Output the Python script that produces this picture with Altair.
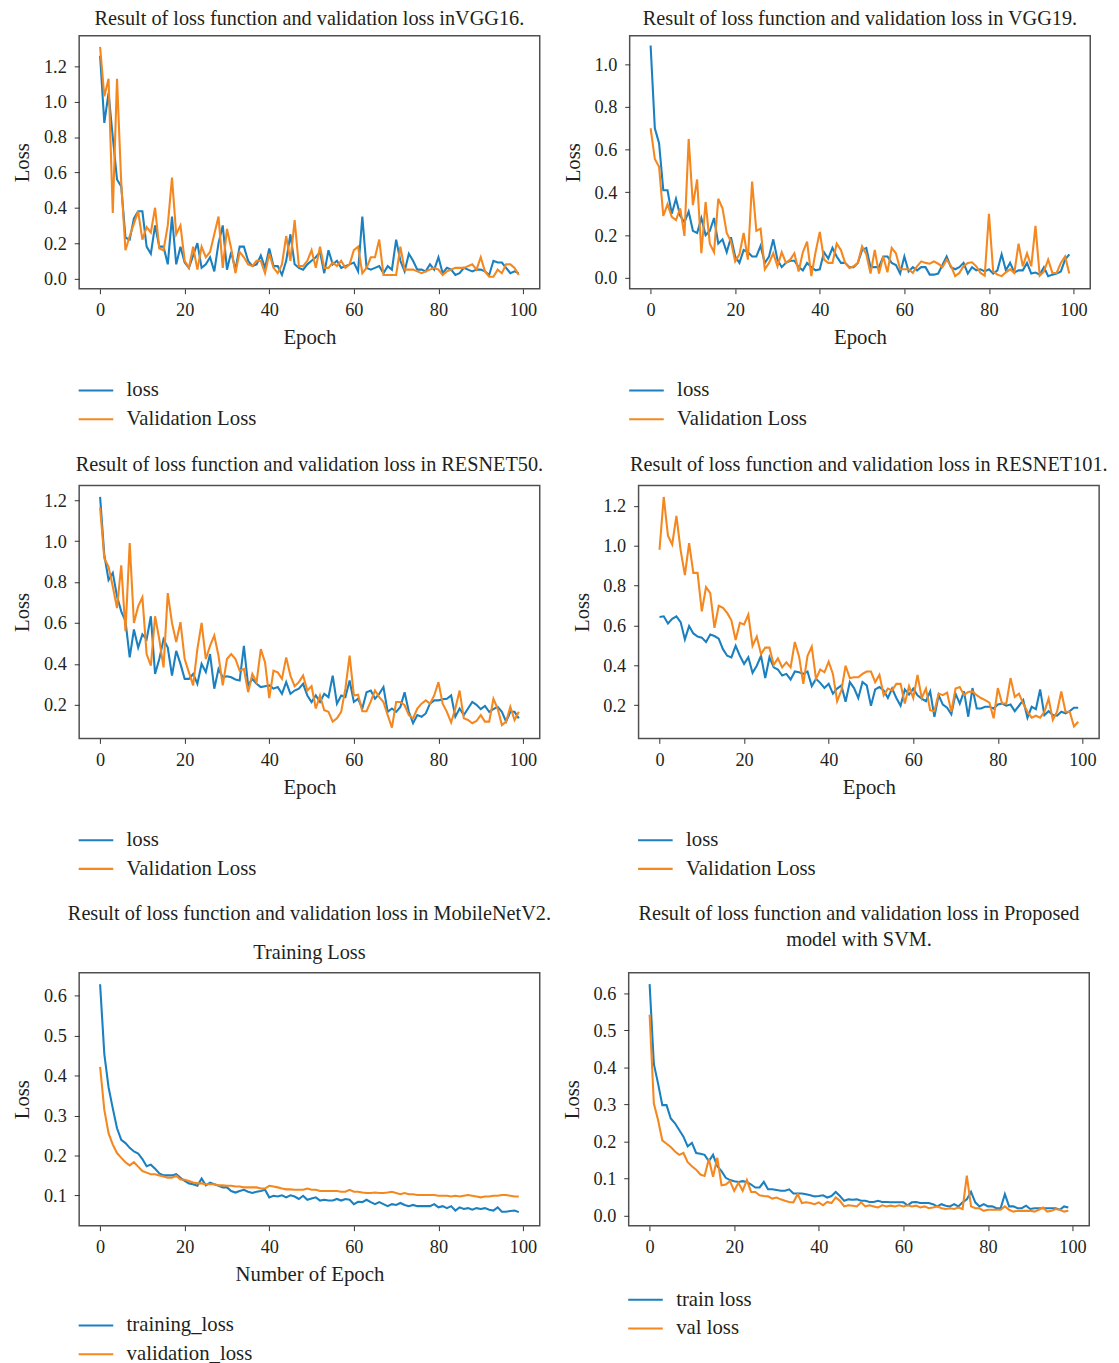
import altair as alt
import pandas as pd

FONT = "Liberation Serif"
TXT = "#231f20"
BLUE = "#1a80c0"
ORANGE = "#f5871f"

epochs = list(range(100))
x_ticks = [0, 20, 40, 60, 80, 100]

vgg16_loss = [1.26, 0.88, 1.05, 0.80, 0.56, 0.52, 0.23, 0.22, 0.34, 0.38, 0.38, 0.18, 0.14, 0.30, 0.18, 0.18, 0.08, 0.35, 0.08, 0.18,
              0.09, 0.06, 0.13, 0.20, 0.06, 0.08, 0.12, 0.04, 0.20, 0.30, 0.05, 0.15, 0.05, 0.18, 0.18, 0.10, 0.07, 0.08, 0.13, 0.06,
              0.17, 0.07, 0.07, 0.02, 0.10, 0.25, 0.08, 0.06, 0.05, 0.08, 0.10, 0.12, 0.15, 0.03, 0.16, 0.08, 0.10, 0.06, 0.07, 0.08,
              0.09, 0.04, 0.35, 0.06, 0.05, 0.06, 0.07, 0.03, 0.07, 0.05, 0.22, 0.10, 0.04, 0.14, 0.10, 0.05, 0.05, 0.04, 0.08, 0.05,
              0.12, 0.03, 0.06, 0.05, 0.02, 0.03, 0.06, 0.05, 0.04, 0.05, 0.05, 0.04, 0.02, 0.10, 0.09, 0.09, 0.06, 0.03, 0.04, 0.03]
vgg16_val = [1.31, 1.03, 1.13, 0.37, 1.13, 0.54, 0.16, 0.24, 0.31, 0.38, 0.22, 0.29, 0.26, 0.40, 0.17, 0.16, 0.30, 0.57, 0.25, 0.30,
             0.10, 0.06, 0.18, 0.05, 0.18, 0.12, 0.15, 0.25, 0.35, 0.06, 0.28, 0.17, 0.03, 0.15, 0.12, 0.08, 0.07, 0.10, 0.10, 0.03,
             0.14, 0.06, 0.03, 0.08, 0.24, 0.10, 0.33, 0.07, 0.07, 0.10, 0.16, 0.06, 0.18, 0.06, 0.06, 0.09, 0.07, 0.10, 0.06, 0.08,
             0.16, 0.18, 0.03, 0.06, 0.12, 0.12, 0.22, 0.02, 0.02, 0.02, 0.02, 0.18, 0.05, 0.05, 0.05, 0.04, 0.03, 0.04, 0.05, 0.06,
             0.05, 0.02, 0.04, 0.05, 0.06, 0.06, 0.06, 0.07, 0.08, 0.05, 0.12, 0.04, 0.01, 0.01, 0.05, 0.03, 0.08, 0.08, 0.06, 0.02]

vgg19_loss = [1.087, 0.70, 0.63, 0.41, 0.41, 0.30, 0.37, 0.29, 0.26, 0.31, 0.22, 0.21, 0.28, 0.20, 0.22, 0.28, 0.16, 0.18, 0.12, 0.19,
              0.10, 0.07, 0.13, 0.12, 0.10, 0.10, 0.15, 0.07, 0.10, 0.18, 0.085, 0.05, 0.07, 0.08, 0.08, 0.05, 0.035, 0.07, 0.05, 0.035,
              0.04, 0.12, 0.09, 0.14, 0.10, 0.07, 0.07, 0.05, 0.05, 0.07, 0.13, 0.14, 0.05, 0.05, 0.05, 0.10, 0.10, 0.07, 0.06, 0.02,
              0.10, 0.03, 0.05, 0.035, 0.05, 0.05, 0.015, 0.015, 0.02, 0.06, 0.10, 0.05, 0.04, 0.05, 0.07, 0.02, 0.05, 0.035, 0.04, 0.03,
              0.04, 0.02, 0.035, 0.11, 0.035, 0.07, 0.025, 0.035, 0.035, 0.07, 0.02, 0.025, 0.015, 0.05, 0.008, 0.015, 0.02, 0.03, 0.085, 0.11]
vgg19_val = [0.70, 0.556, 0.52, 0.29, 0.345, 0.285, 0.27, 0.325, 0.196, 0.65, 0.34, 0.46, 0.115, 0.355, 0.16, 0.12, 0.37, 0.325, 0.21, 0.17,
             0.077, 0.11, 0.21, 0.085, 0.45, 0.22, 0.23, 0.04, 0.07, 0.115, 0.054, 0.12, 0.07, 0.085, 0.115, 0.03, 0.12, 0.17, 0.008, 0.12,
             0.215, 0.085, 0.07, 0.07, 0.16, 0.13, 0.07, 0.046, 0.054, 0.07, 0.147, 0.11, 0.02, 0.13, 0.02, 0.10, 0.026, 0.14, 0.115, 0.04,
             0.04, 0.04, 0.023, 0.054, 0.077, 0.07, 0.066, 0.077, 0.066, 0.05, 0.085, 0.057, 0.008, 0.023, 0.054, 0.07, 0.073, 0.054, 0.023, 0.01,
             0.30, 0.03, 0.015, 0.008, 0.026, 0.04, 0.023, 0.16, 0.054, 0.115, 0.054, 0.243, 0.01, 0.03, 0.085, 0.023, 0.023, 0.07, 0.10, 0.02]

resnet50_loss = [1.216, 0.931, 0.81, 0.845, 0.73, 0.657, 0.609, 0.432, 0.568, 0.48, 0.544, 0.52, 0.633, 0.351, 0.424, 0.52, 0.48, 0.343, 0.464, 0.40,
                 0.327, 0.327, 0.351, 0.303, 0.40, 0.36, 0.448, 0.279, 0.375, 0.335, 0.34, 0.335, 0.324, 0.319, 0.488, 0.295, 0.327, 0.303, 0.287, 0.291,
                 0.295, 0.279, 0.287, 0.254, 0.311, 0.254, 0.27, 0.279, 0.303, 0.246, 0.214, 0.246, 0.214, 0.254, 0.238, 0.343, 0.206, 0.246, 0.238, 0.319,
                 0.214, 0.23, 0.182, 0.262, 0.27, 0.23, 0.254, 0.287, 0.166, 0.182, 0.166, 0.19, 0.262, 0.166, 0.11, 0.15, 0.142, 0.158, 0.206, 0.222,
                 0.222, 0.227, 0.23, 0.246, 0.142, 0.182, 0.15, 0.182, 0.214, 0.20, 0.179, 0.195, 0.166, 0.179, 0.19, 0.166, 0.118, 0.166, 0.166, 0.134]
resnet50_val = [1.164, 0.915, 0.874, 0.778, 0.673, 0.882, 0.56, 0.99, 0.60, 0.681, 0.725, 0.448, 0.391, 0.633, 0.52, 0.383, 0.746, 0.60, 0.507, 0.604,
                0.424, 0.359, 0.295, 0.472, 0.60, 0.424, 0.488, 0.539, 0.44, 0.295, 0.424, 0.448, 0.424, 0.367, 0.375, 0.262, 0.351, 0.311, 0.472, 0.407,
                0.233, 0.367, 0.359, 0.327, 0.432, 0.343, 0.291, 0.311, 0.343, 0.27, 0.291, 0.182, 0.246, 0.174, 0.166, 0.118, 0.134, 0.166, 0.279, 0.44,
                0.246, 0.25, 0.169, 0.169, 0.217, 0.27, 0.238, 0.214, 0.15, 0.089, 0.214, 0.214, 0.198, 0.15, 0.134, 0.182, 0.206, 0.222, 0.206, 0.246,
                0.311, 0.206, 0.166, 0.114, 0.182, 0.27, 0.134, 0.126, 0.11, 0.121, 0.15, 0.118, 0.118, 0.23, 0.182, 0.101, 0.118, 0.19, 0.126, 0.166]

resnet101_loss = [0.643, 0.646, 0.61, 0.633, 0.646, 0.617, 0.53, 0.597, 0.56, 0.544, 0.539, 0.517, 0.555, 0.547, 0.534, 0.481, 0.448, 0.44, 0.498, 0.448,
                  0.407, 0.44, 0.362, 0.398, 0.448, 0.336, 0.44, 0.39, 0.379, 0.349, 0.357, 0.329, 0.369, 0.365, 0.357, 0.369, 0.296, 0.332, 0.312, 0.286,
                  0.307, 0.258, 0.283, 0.299, 0.217, 0.316, 0.286, 0.236, 0.316, 0.299, 0.197, 0.279, 0.291, 0.274, 0.236, 0.283, 0.236, 0.197, 0.279, 0.253,
                  0.283, 0.25, 0.233, 0.22, 0.269, 0.142, 0.25, 0.203, 0.187, 0.154, 0.258, 0.208, 0.269, 0.142, 0.286, 0.183, 0.183, 0.192, 0.192, 0.183,
                  0.203, 0.208, 0.197, 0.203, 0.17, 0.197, 0.225, 0.137, 0.192, 0.18, 0.279, 0.15, 0.17, 0.15, 0.147, 0.167, 0.159, 0.17, 0.187, 0.187]
resnet101_val = [0.98, 1.245, 1.051, 1.007, 1.15, 0.977, 0.853, 1.013, 0.864, 0.864, 0.671, 0.792, 0.762, 0.588, 0.699, 0.688, 0.663, 0.626, 0.527, 0.613,
                 0.605, 0.655, 0.498, 0.544, 0.456, 0.489, 0.489, 0.402, 0.435, 0.39, 0.415, 0.39, 0.517, 0.445, 0.307, 0.448, 0.494, 0.332, 0.379, 0.365,
                 0.418, 0.357, 0.22, 0.274, 0.398, 0.336, 0.34, 0.34, 0.357, 0.369, 0.369, 0.316, 0.352, 0.25, 0.283, 0.274, 0.307, 0.307, 0.208, 0.296,
                 0.236, 0.352, 0.236, 0.283, 0.175, 0.17, 0.258, 0.25, 0.263, 0.167, 0.283, 0.291, 0.25, 0.266, 0.269, 0.25, 0.236, 0.225, 0.213, 0.134,
                 0.286, 0.208, 0.208, 0.336, 0.241, 0.258, 0.208, 0.167, 0.137, 0.147, 0.137, 0.167, 0.233, 0.126, 0.167, 0.269, 0.167, 0.167, 0.093, 0.117]

mobilenet_train = [0.629, 0.454, 0.371, 0.318, 0.268, 0.239, 0.231, 0.219, 0.21, 0.205, 0.191, 0.173, 0.177, 0.167, 0.155, 0.15, 0.15, 0.15, 0.153, 0.144,
                   0.136, 0.13, 0.128, 0.124, 0.142, 0.125, 0.132, 0.128, 0.124, 0.12, 0.12, 0.111, 0.107, 0.111, 0.114, 0.109, 0.106, 0.109, 0.111, 0.114,
                   0.095, 0.099, 0.097, 0.10, 0.095, 0.10, 0.097, 0.091, 0.099, 0.089, 0.092, 0.095, 0.087, 0.089, 0.087, 0.087, 0.091, 0.087, 0.091, 0.089,
                   0.078, 0.084, 0.083, 0.089, 0.083, 0.078, 0.083, 0.078, 0.073, 0.078, 0.076, 0.081, 0.076, 0.073, 0.076, 0.073, 0.073, 0.073, 0.073, 0.078,
                   0.07, 0.073, 0.068, 0.073, 0.062, 0.07, 0.066, 0.068, 0.064, 0.068, 0.066, 0.068, 0.064, 0.062, 0.07, 0.059, 0.059, 0.061, 0.062, 0.058]
mobilenet_val = [0.422, 0.314, 0.256, 0.227, 0.206, 0.194, 0.183, 0.175, 0.183, 0.172, 0.161, 0.157, 0.153, 0.153, 0.15, 0.147, 0.144, 0.144, 0.149, 0.14,
                 0.139, 0.136, 0.132, 0.13, 0.13, 0.128, 0.128, 0.128, 0.125, 0.125, 0.124, 0.124, 0.122, 0.122, 0.12, 0.12, 0.12, 0.12, 0.117, 0.117,
                 0.124, 0.122, 0.12, 0.117, 0.115, 0.115, 0.114, 0.114, 0.114, 0.117, 0.114, 0.114, 0.111, 0.111, 0.111, 0.111, 0.111, 0.109, 0.109, 0.114,
                 0.109, 0.109, 0.107, 0.106, 0.106, 0.107, 0.106, 0.106, 0.107, 0.109, 0.106, 0.103, 0.106, 0.103, 0.103, 0.101, 0.101, 0.101, 0.101, 0.101,
                 0.099, 0.099, 0.099, 0.097, 0.099, 0.097, 0.099, 0.101, 0.099, 0.097, 0.095, 0.097, 0.097, 0.099, 0.099, 0.101, 0.101, 0.099, 0.097, 0.097]

svm_train = [0.624, 0.409, 0.356, 0.298, 0.298, 0.262, 0.249, 0.231, 0.213, 0.187, 0.196, 0.169, 0.167, 0.164, 0.147, 0.164, 0.133, 0.12, 0.102, 0.096,
             0.093, 0.091, 0.093, 0.091, 0.084, 0.076, 0.076, 0.091, 0.071, 0.071, 0.069, 0.067, 0.067, 0.071, 0.06, 0.06, 0.06, 0.058, 0.055, 0.052,
             0.053, 0.055, 0.049, 0.053, 0.064, 0.053, 0.04, 0.044, 0.043, 0.044, 0.04, 0.04, 0.037, 0.037, 0.04, 0.037, 0.037, 0.036, 0.036, 0.036,
             0.036, 0.028, 0.036, 0.037, 0.034, 0.034, 0.034, 0.031, 0.025, 0.031, 0.027, 0.025, 0.031, 0.025, 0.036, 0.044, 0.064, 0.036, 0.025, 0.031,
             0.025, 0.025, 0.02, 0.02, 0.058, 0.025, 0.025, 0.02, 0.02, 0.027, 0.018, 0.02, 0.02, 0.02, 0.02, 0.02, 0.02, 0.016, 0.025, 0.022]
svm_val = [0.542, 0.302, 0.258, 0.203, 0.194, 0.185, 0.173, 0.164, 0.169, 0.144, 0.133, 0.124, 0.111, 0.107, 0.153, 0.105, 0.156, 0.082, 0.084, 0.093,
           0.067, 0.089, 0.067, 0.096, 0.064, 0.064, 0.055, 0.053, 0.052, 0.046, 0.049, 0.044, 0.04, 0.037, 0.036, 0.058, 0.034, 0.036, 0.034, 0.031,
           0.036, 0.028, 0.037, 0.034, 0.049, 0.04, 0.025, 0.028, 0.027, 0.025, 0.036, 0.025, 0.028, 0.025, 0.022, 0.028, 0.025, 0.027, 0.025, 0.028,
           0.025, 0.028, 0.025, 0.027, 0.022, 0.025, 0.02, 0.022, 0.025, 0.02, 0.018, 0.02, 0.018, 0.022, 0.018, 0.108, 0.025, 0.02, 0.02, 0.013,
           0.016, 0.016, 0.016, 0.016, 0.025, 0.016, 0.011, 0.013, 0.013, 0.013, 0.013, 0.011, 0.016, 0.022, 0.011, 0.013, 0.018, 0.016, 0.011, 0.013]

names_a = ["loss", "Validation Loss"]
names_mobile = ["training_loss", "validation_loss"]
names_svm = ["train loss", "val loss"]

W, H = 466, 256


def panel(title, loss, val, names, ydomain, yticks, xtitle, legend_y,
          title_offset=10, subtitle=None):
    df = pd.DataFrame({
        "epoch": epochs + epochs,
        "value": loss + val,
        "series": [names[0]] * len(loss) + [names[1]] * len(val),
    })
    tkw = dict(text=title, offset=title_offset)
    if isinstance(title, list):
        tkw["lineHeight"] = 26
    if subtitle is not None:
        tkw["subtitle"] = subtitle
        tkw["subtitlePadding"] = 19
    xaxis_kw = dict(values=x_ticks, format="d", labelFlush=False)
    xaxis_kw["title"] = xtitle if xtitle else None
    return alt.Chart(df, title=alt.TitleParams(**tkw)).mark_line(strokeWidth=2.1).encode(
        x=alt.X("epoch:Q",
                scale=alt.Scale(domain=[-4.95, 103.95], nice=False, zero=False),
                axis=alt.Axis(**xaxis_kw)),
        y=alt.Y("value:Q",
                scale=alt.Scale(domain=ydomain, nice=False, zero=False),
                axis=alt.Axis(values=yticks, format=".1f", title="Loss", labelFlush=False)),
        color=alt.Color("series:N",
                        scale=alt.Scale(domain=names, range=[BLUE, ORANGE]),
                        sort=names,
                        legend=alt.Legend(orient="none", legendX=-2, legendY=legend_y,
                                          title=None)),
    ).properties(width=W, height=H)


p1 = panel("Result of loss function and validation loss inVGG16.", vgg16_loss, vgg16_val, names_a,
           [-0.058, 1.373], [0.0, 0.2, 0.4, 0.6, 0.8, 1.0, 1.2], "Epoch", 340, title_offset=6)
p2 = panel("Result of loss function and validation loss in VGG19.", vgg19_loss, vgg19_val, names_a,
           [-0.051, 1.133], [0.0, 0.2, 0.4, 0.6, 0.8, 1.0], "Epoch", 340, title_offset=6)
p3 = panel("Result of loss function and validation loss in RESNET50.", resnet50_loss, resnet50_val, names_a,
           [0.036, 1.272], [0.2, 0.4, 0.6, 0.8, 1.0, 1.2], "Epoch", 340)
p4 = panel("Result of loss function and validation loss in RESNET101.", resnet101_loss, resnet101_val, names_a,
           [0.033, 1.303], [0.2, 0.4, 0.6, 0.8, 1.0, 1.2], "Epoch", 340)
p5 = panel("Result of loss function and validation loss in MobileNetV2.", mobilenet_train, mobilenet_val, names_mobile,
           [0.024, 0.658], [0.1, 0.2, 0.3, 0.4, 0.5, 0.6], "Number of Epoch", 338,
           title_offset=9, subtitle="Training Loss")
p6 = panel(["Result of loss function and validation loss in Proposed", "model with SVM."], svm_train, svm_val, names_svm,
           [-0.027, 0.655], [0.0, 0.1, 0.2, 0.3, 0.4, 0.5, 0.6], None, 312,
           title_offset=22.5)


def row(a, b, spacing=15):
    return alt.hconcat(a, b, spacing=spacing).resolve_scale(color="independent").resolve_legend(color="independent")


chart = alt.vconcat(row(p1, p2, 21), row(p3, p4, 26), row(p5, p6, 8), spacing=24).resolve_scale(
    color="independent").resolve_legend(color="independent").properties(
    padding={"left": 3, "top": -8, "right": 2, "bottom": 0}
).configure(font=FONT).configure_view(
    stroke="#505050", strokeWidth=1.5
).configure_axis(
    grid=False, domain=False, tickColor="#333333", tickSize=5, tickWidth=1,
    labelFont=FONT, labelFontSize=18.5, labelColor=TXT, labelPadding=7,
    titleFont=FONT, titleFontSize=21, titleFontWeight="normal", titleColor=TXT,
).configure_axisX(titlePadding=8).configure_axisY(labelPadding=8, titlePadding=11).configure_title(
    font=FONT, fontSize=20.5, fontWeight="normal", color=TXT, anchor="middle",
    subtitleFont=FONT, subtitleFontSize=20.5, subtitleColor=TXT,
).configure_legend(
    labelFont=FONT, labelFontSize=21, labelColor=TXT, symbolType="stroke",
    symbolSize=1225, symbolStrokeWidth=2.1, rowPadding=-7, labelOffset=12, padding=0,
)

chart.save("out.html", embed_options={"renderer": "svg", "actions": False})
